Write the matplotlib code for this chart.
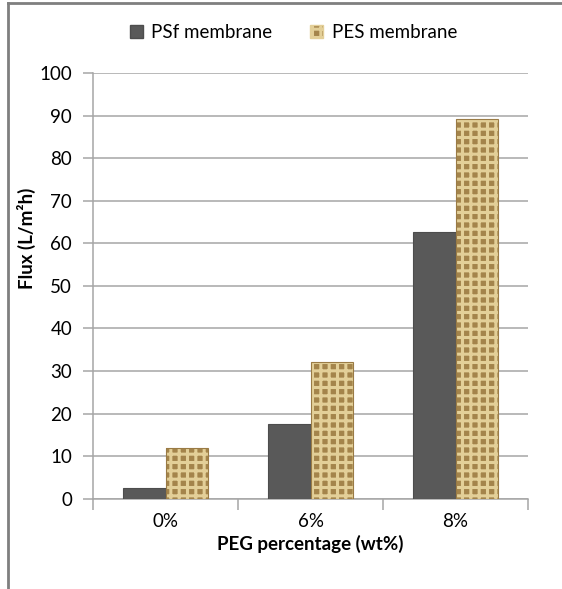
import numpy as np
import matplotlib.pyplot as plt
from matplotlib.lines import Line2D
from matplotlib.patches import Patch

categories = ['0%', '6%', '8%']
psf_flux = [2.4, 17.6, 62.6]
pes_flux = [11.8, 32.2, 89.2]

plt.rcParams['font.family'] = ['Lato', 'DejaVu Sans']
plt.rcParams['hatch.linewidth'] = 2.2

fig = plt.figure(figsize=(5.62, 5.89), dpi=100)
ax = fig.add_axes([0.1655, 0.1533, 0.774, 0.7227])

x = np.arange(len(categories))
w = 0.29
psf_color = '#595959'
pes_face = '#a4844b'
pes_weave = '#e3cf98'

ax.bar(x - w / 2, psf_flux, w, color=psf_color, edgecolor='#4d4d4d', linewidth=0.8, zorder=3)
# burlap look: light weave hatch on a tan base
ax.bar(x + w / 2, pes_flux, w, color=pes_face, edgecolor=pes_weave,
       hatch='++', linewidth=0, zorder=3)
ax.bar(x + w / 2, pes_flux, w, fill=False, edgecolor='#9a7b45', linewidth=0.8, zorder=4)

ax.set_xlim(-0.5, 2.5)
ax.set_ylim(0, 100)
ax.set_yticks(range(0, 101, 10))
ax.yaxis.grid(True, color='#a6a6a6', linewidth=1.1, zorder=0)
ax.set_axisbelow(True)

ax.set_xticks(x)
ax.set_xticklabels(categories, fontsize=13.5)
ax.set_xticks([-0.5, 0.5, 1.5, 2.5], minor=True)
ax.tick_params(axis='x', which='major', length=0, pad=10)
ax.tick_params(axis='x', which='minor', length=8, color='#a6a6a6', width=1.1)
ax.tick_params(axis='y', length=7, color='#a6a6a6', width=1.1, labelsize=13.5, pad=8)

for s in ['top', 'right']:
    ax.spines[s].set_visible(False)
for s in ['left', 'bottom']:
    ax.spines[s].set_color('#a6a6a6')
    ax.spines[s].set_linewidth(1.1)

ax.set_xlabel('PEG percentage (wt%)', fontsize=13.5, fontweight='bold', labelpad=4)
ax.set_ylabel('Flux (L/m²h)', fontsize=13.5, fontweight='bold')
ax.yaxis.set_label_coords(-0.13, 0.612)

handles = [Patch(facecolor=psf_color, edgecolor='#4d4d4d'),
           Patch(facecolor=pes_face, edgecolor=pes_weave, hatch='++')]
fig.legend(handles, ['PSf membrane', 'PES membrane'], loc='center',
           bbox_to_anchor=(0.522, 0.944), ncol=2, frameon=False, fontsize=13.5,
           handlelength=0.7, handleheight=0.7, columnspacing=2.0, handletextpad=0.45)

# picture frame lines
fig.add_artist(Line2D([8 / 562, 8 / 562], [0, 1 - 3 / 589], color='#7f7f7f', lw=2))
fig.add_artist(Line2D([8 / 562, 1], [1 - 3 / 589, 1 - 3 / 589], color='#7f7f7f', lw=2))

fig.savefig('out.png', dpi=100)
